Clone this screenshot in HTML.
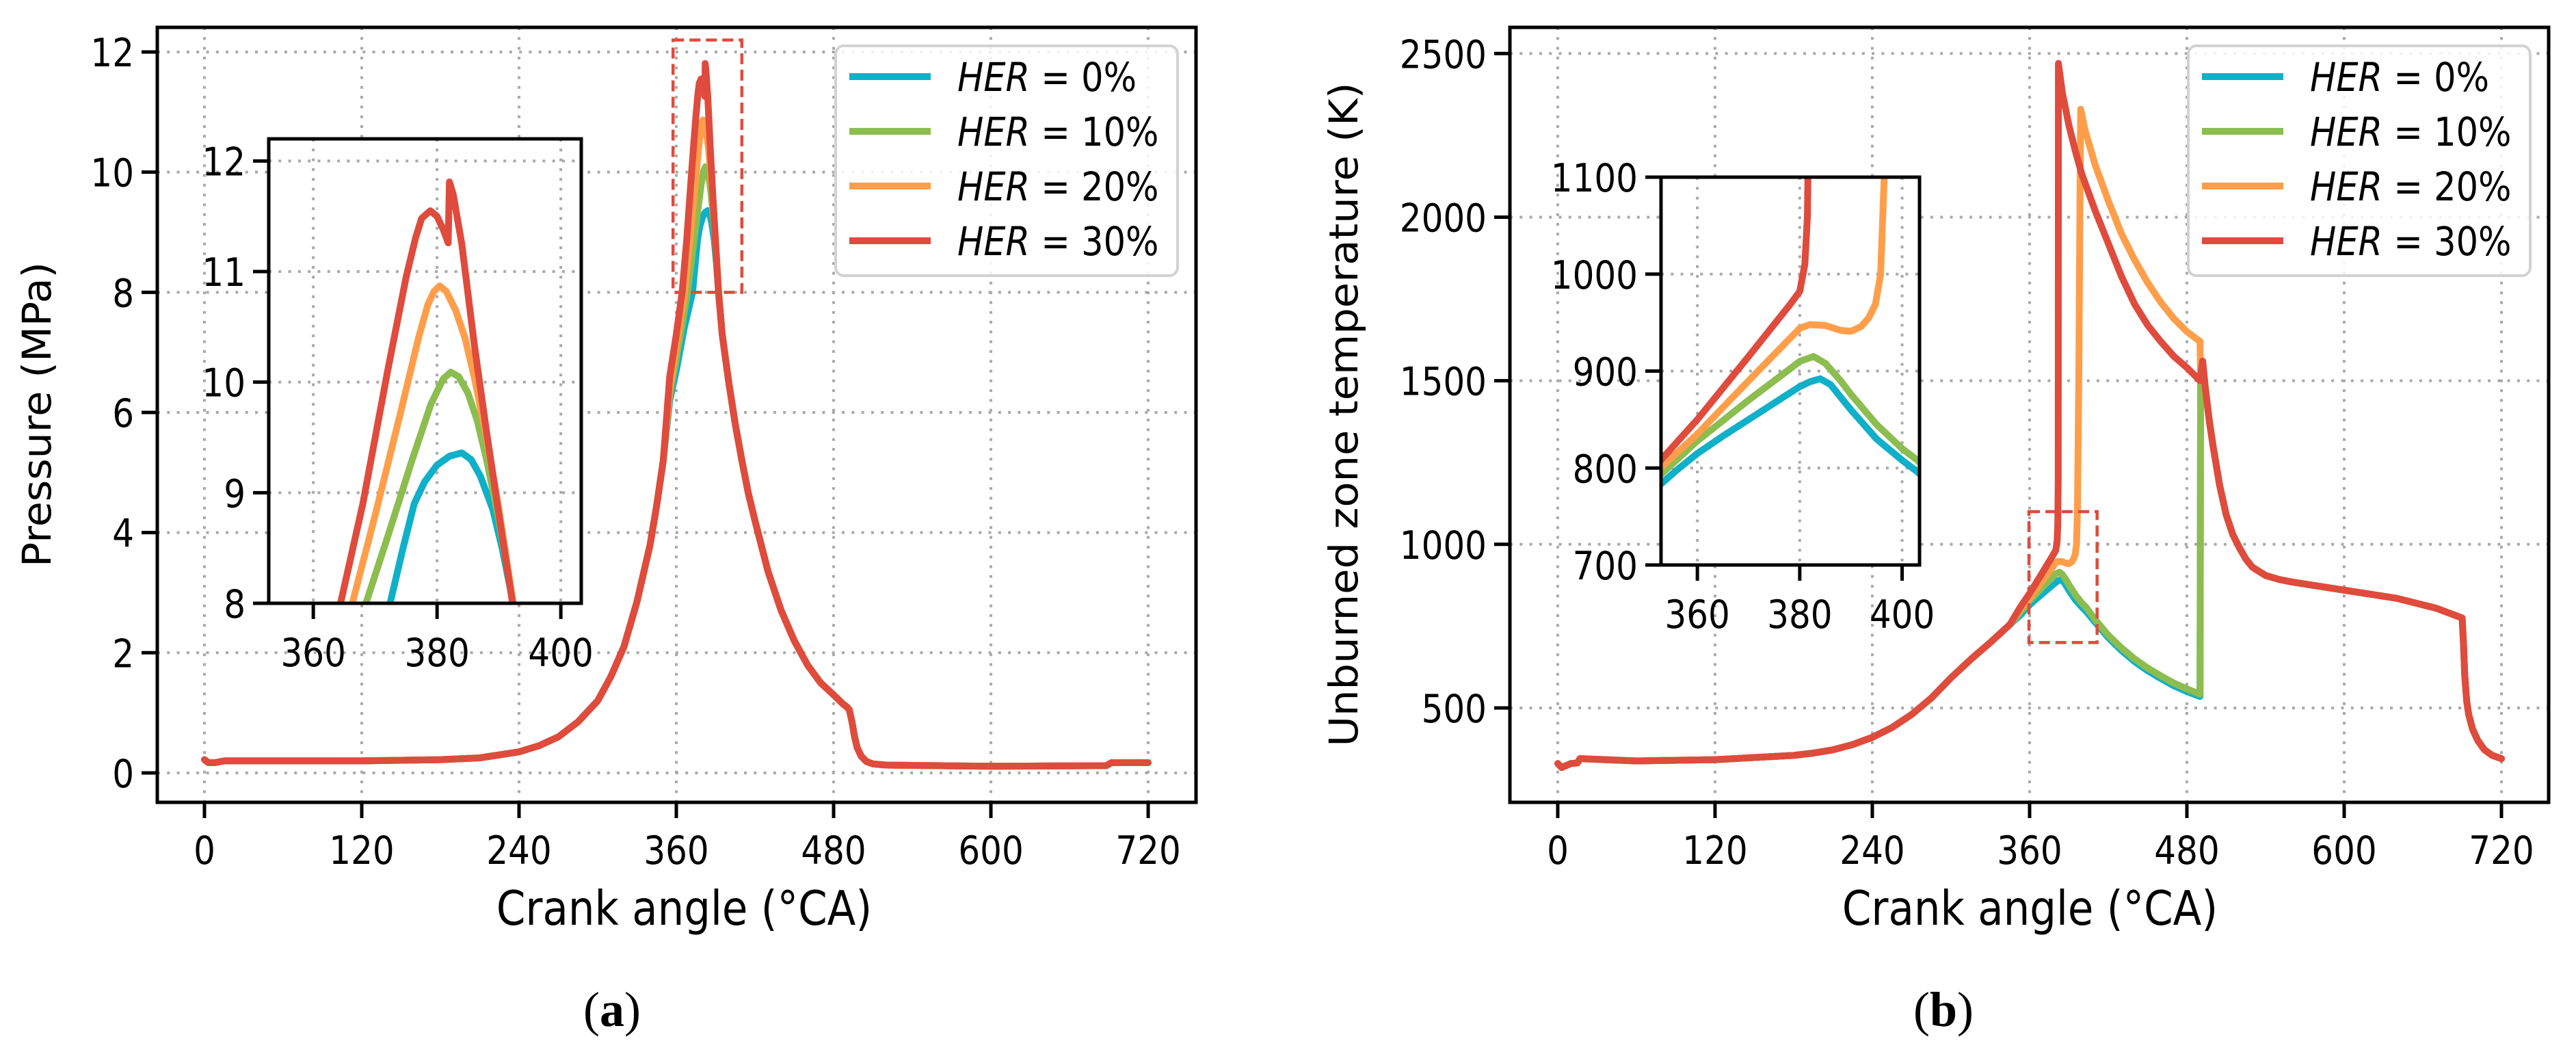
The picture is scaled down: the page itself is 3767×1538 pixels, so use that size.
<!DOCTYPE html>
<html><head><meta charset="utf-8"><title>Pressure and unburned zone temperature vs crank angle</title>
<style>
html,body{margin:0;padding:0;background:#fff;overflow:hidden;width:3767px;height:1538px;position:relative;}
svg{display:block;position:absolute;left:0;top:0;font-family:"DejaVu Sans","Liberation Sans",sans-serif;overflow:hidden;}
</style></head>
<body>
<svg id="fig" xmlns="http://www.w3.org/2000/svg" width="3767" height="1538" viewBox="0 0 3767 1538">
<clipPath id="pageclip"><rect x="0" y="0" width="3767" height="1538"/></clipPath>
<g id="root" clip-path="url(#pageclip)">
<rect x="0" y="0" width="3767" height="1538" fill="#fff"/>
<text x="895" y="1500" font-family="Liberation Serif, serif" font-size="72" text-anchor="middle">(<tspan font-weight="bold">a</tspan>)</text>
<text x="2842" y="1500" font-family="Liberation Serif, serif" font-size="72" text-anchor="middle">(<tspan font-weight="bold">b</tspan>)</text>
</g>
</svg>
<script>
// ---------- data ----------
const seriesNames = ["HER = 0%","HER = 10%","HER = 20%","HER = 30%"];
const seriesLabelsNum = ["0%","10%","20%","30%"];
const xTicksMain = [0,120,240,360,480,600,720];
const pTicks = [0,2,4,6,8,10,12];
const tTicks = [500,1000,1500,2000,2500];
const insetXTicks = [360,380,400];
const pInsetTicks = [8,9,10,11,12];
const tInsetTicks = [700,800,900,1000,1100];

// Pressure (MPa)
const pPreAngle = [0,3,8,15,60,120,180,210,240,255,270,285,300,310,320,330,340,345,350];
const pPreVal   = [0.22,0.17,0.17,0.2,0.2,0.2,0.22,0.25,0.35,0.45,0.6,0.85,1.2,1.6,2.1,2.85,3.8,4.45,5.2];
const pPeakAngle0 = [355,360,366,372.4,374.5,376.3,378,380,382,384,385.5,387,389,390.5,392.3];
const pPeakVal0   = [6.2,6.7,7.4,8.0,8.5,8.9,9.1,9.25,9.33,9.36,9.3,9.15,8.85,8.5,8.0];
const pPeakAngle1 = [355,360,364,368.5,372,376,379,381,382.2,383.5,385,386.5,388,390,392.3];
const pPeakVal1   = [6.3,6.9,7.4,8.0,8.6,9.3,9.8,10.03,10.09,10.05,9.9,9.65,9.3,8.75,8.0];
const pPeakAngle2 = [355,360,366.3,370,374,377,378.5,379.5,380.4,381.5,383,384.5,386,388,390,392.3];
const pPeakVal2   = [6.4,7.1,8.0,8.8,9.7,10.4,10.7,10.82,10.87,10.82,10.65,10.4,10.05,9.5,8.85,8.0];
const pPeakAngle3 = [355,360,364.4,368,372,375,376.5,377.5,378.9,380,381,381.8,382,382.6,384,386,388,390,392.2];
const pPeakVal3   = [6.6,7.3,8.0,8.9,10.1,10.95,11.3,11.48,11.55,11.5,11.38,11.26,11.81,11.7,11.25,10.35,9.55,8.8,8.0];
const pTailAngle = [395,400,405,410,415,420,430,440,450,460,470,480,487,490,492,494,496,498,501,505,510,520,600,688,692,720];
const pTailVal   = [7.3,6.5,5.8,5.2,4.65,4.2,3.35,2.7,2.2,1.8,1.5,1.3,1.15,1.1,1.05,0.85,0.6,0.42,0.28,0.19,0.15,0.13,0.11,0.12,0.17,0.17];

// Unburned zone temperature (K)
const tPreAngle = [0,3,10,15,17,60,120,180,195,210,225,240,255,270,285,300,315,330,345];
const tPreVal   = [330,318,330,332,345,338,342,355,362,372,388,410,440,480,530,592,648,700,755];
const tMidAngle0 = [353,356,360,365,370,375,380,382,384,386,388,390,395,400,403,410,420,430,440,450,460,470,480,490,490.5];
const tMidVal0   = [784,798,815,833,850,867,884,889,892,886,873,860,830,808,796,762,715,676,642,614,590,568,550,535,1500];
const tMidAngle1 = [353,360,370,378,380,382.7,385,388,390,395,400,403,410,420,430,440,450,460,470,480,490,490.5];
const tMidVal1   = [794,828,870,902,910,915,908,890,876,845,820,808,770,722,684,650,622,598,576,558,542,1500];
const tMidAngle2 = [353,360,370,380,382,385,388,390,392,393.5,394.8,395.8,396.5,397.5,398.5,399,402,410,420,430,440,450,460,470,480,490,490.5];
const tMidVal2   = [801,835,890,944,948,947,942,941,946,955,969,1000,1100,1500,2100,2330,2270,2160,2050,1950,1870,1800,1740,1690,1650,1620,1500];
const tMidAngle3 = [353,360,370,378,380,381,381.5,381.8,382,385,390,395,400,410,420,430,440,450,460,470,480,490];
const tMidVal3   = [809,850,915,968,982,1010,1060,1200,2470,2380,2280,2200,2130,2020,1920,1820,1735,1670,1620,1575,1540,1500];
const tTailAngle = [492,494,497,500,505,510,515,520,525,530,540,550,560,600,640,670,690,691,692,693.5,695,698,702,707,713,720];
const tTailVal   = [1560,1480,1380,1300,1180,1090,1030,990,955,930,905,893,885,860,835,805,775,700,600,520,480,435,400,372,355,345];

const colors = ["#0fb0c8","#8bbd4f","#ff9e4a","#df4b3c"];

// ---------- helpers ----------
const NS = "http://www.w3.org/2000/svg";
const svg = document.getElementById("root");
function mk(tag, attrs, parent){
  const e = document.createElementNS(NS, tag);
  for (const k in attrs) e.setAttribute(k, attrs[k]);
  (parent||svg).appendChild(e);
  return e;
}
function scale(d0,d1,r0,r1){ return v => r0 + (v-d0)*(r1-r0)/(d1-d0); }
function txt(x,y,s,size,anchor,parent){
  const t = mk("text",{transform:"translate("+x+","+y+") scale(1,1.14)","font-size":size,"text-anchor":anchor||"middle"},parent);
  t.textContent = s;
  return t;
}
function series(pre, preV, mid, midV, tail, tailV){
  return {x: pre.concat(mid, tail), y: preV.concat(midV, tailV)};
}
let clipId = 0;

function drawAxes(g, box, sx, sy, xt, yt, opts){
  const grid = mk("g",{stroke:"#a9a9a9","stroke-width":4,"stroke-dasharray":"4 10.3",fill:"none"},g);
  
  
  xt.forEach(v=>{
    const l = mk("line",{x1:sx(v),x2:sx(v),y1:box.t,y2:box.b},grid);
    
    
  });
  yt.forEach(v=>{
    const l = mk("line",{x1:box.l,x2:box.r,y1:sy(v),y2:sy(v)},grid);
    
    
  });
}
function drawFrame(g, box, sx, sy, xt, yt, opts){
  const fr = mk("rect",{x:box.l,y:box.t,width:box.r-box.l,height:box.b-box.t,fill:"none",stroke:"#000","stroke-width":5},g);
  
  
  xt.forEach(v=>{
    const tk = mk("line",{x1:sx(v),x2:sx(v),y1:box.b,y2:box.b+23,stroke:"#000","stroke-width":5},g);
    
    
    const lb = txt(sx(v), box.b+opts.xLabDy, String(v), 50, "middle", g);
    
    
  });
  yt.forEach(v=>{
    const tk = mk("line",{x1:box.l-23,x2:box.l,y1:sy(v),y2:sy(v),stroke:"#000","stroke-width":5},g);
    
    
    const lb = txt(box.l-34, sy(v)+21, String(v), 50, "end", g);
    
    
  });
}
function drawLines(g, box, sx, sy, data, width){
  clipId++;
  const cp = mk("clipPath",{id:"cp"+clipId},g);
  mk("rect",{x:box.l,y:box.t,width:box.r-box.l,height:box.b-box.t},cp);
  const lg = mk("g",{"clip-path":"url(#cp"+clipId+")"},g);
  data.forEach((s,i)=>{
    const d = s.x.map((v,j)=>(j?"L":"M")+sx(v).toFixed(1)+","+sy(s.y[j]).toFixed(1)).join(" ");
    const p = mk("path",{d:d,fill:"none",stroke:colors[i],"stroke-width":width,"stroke-linejoin":"round","stroke-linecap":"round"},lg);
    
    
  });
}
function drawLegend(g, x0){
  const lg = mk("g",{},g);
  
  
  const r = mk("rect",{x:x0,y:67,width:500,height:336,rx:12,fill:"#fff","fill-opacity":0.85,stroke:"#d2d2d2","stroke-width":4},lg);
  
  
  seriesNames.forEach((n,i)=>{
    const y = 112 + i*80;
    const ln = mk("line",{x1:x0+20,x2:x0+139,y1:y,y2:y,stroke:colors[i],"stroke-width":10},lg);
    
    
    const t = mk("text",{transform:"translate("+(x0+178)+","+(y+21)+") scale(1,1.14)","font-size":51},lg);
    
    
    const it = mk("tspan",{"font-style":"italic"},t); it.textContent = "HER";
    const rest = mk("tspan",{},t); rest.textContent = " = " + seriesLabelsNum[i];
  });
}

function panel(cfg){
  const g = mk("g",{});
  
  
  const box = cfg.box;
  const sx = scale(cfg.xd[0],cfg.xd[1],box.l,box.r);
  const sy = scale(cfg.yd[0],cfg.yd[1],box.b,box.t);
  drawAxes(g, box, sx, sy, xTicksMain, cfg.yTicks, {name:cfg.name});
  drawLines(g, box, sx, sy, cfg.data, 10);
  const zr = mk("rect",{x:sx(cfg.zoomX[0]),y:sy(cfg.zoomY[1]),width:sx(cfg.zoomX[1])-sx(cfg.zoomX[0]),height:sy(cfg.zoomY[0])-sy(cfg.zoomY[1]),fill:"none",stroke:"#df4b3c","stroke-width":4.5,"stroke-dasharray":"16 8"},g);
  
  
  drawFrame(g, box, sx, sy, xTicksMain, cfg.yTicks, {name:cfg.name, xLabDy:90});
  const xl = txt((box.l+box.r)/2 - (cfg.name==='pressure-chart'?-11:-1), 1352, "Crank angle (°CA)", 61, "middle", g);
  
  
  const yl = mk("text",{transform:"translate("+cfg.ylabX+",606) rotate(-90)","font-size":58,"text-anchor":"middle",textLength:cfg.ylabLen,lengthAdjust:"spacingAndGlyphs"},g);
  yl.textContent = cfg.ylab;
  
  
  const ig = mk("g",{},g);
  
  
  const ib = cfg.ibox;
  const bg = mk("rect",{x:ib.l,y:ib.t,width:ib.r-ib.l,height:ib.b-ib.t,fill:"#fff"},ig);
  
  
  const isx = scale(cfg.ixd[0],cfg.ixd[1],ib.l,ib.r);
  const isy = scale(cfg.iyd[0],cfg.iyd[1],ib.b,ib.t);
  drawAxes(ig, ib, isx, isy, insetXTicks, cfg.iyTicks, {name:'inset'});
  drawLines(ig, ib, isx, isy, cfg.data, 10);
  drawFrame(ig, ib, isx, isy, insetXTicks, cfg.iyTicks, {name:'inset', xLabDy:92});
  drawLegend(g, cfg.legX);
}

const pData = [
  series(pPreAngle,pPreVal,pPeakAngle0,pPeakVal0,pTailAngle,pTailVal),
  series(pPreAngle,pPreVal,pPeakAngle1,pPeakVal1,pTailAngle,pTailVal),
  series(pPreAngle,pPreVal,pPeakAngle2,pPeakVal2,pTailAngle,pTailVal),
  series(pPreAngle,pPreVal,pPeakAngle3,pPeakVal3,pTailAngle,pTailVal)
];
const tData = [
  series(tPreAngle,tPreVal,tMidAngle0,tMidVal0,tTailAngle,tTailVal),
  series(tPreAngle,tPreVal,tMidAngle1,tMidVal1,tTailAngle,tTailVal),
  series(tPreAngle,tPreVal,tMidAngle2,tMidVal2,tTailAngle,tTailVal),
  series(tPreAngle,tPreVal,tMidAngle3,tMidVal3,tTailAngle,tTailVal)
];

panel({name:'pressure-chart', box:{l:230,r:1749,t:40,b:1173}, xd:[-36,756.5], yd:[-0.49,12.41],
  yTicks:pTicks, data:pData, zoomX:[357.5,410], zoomY:[8,12.2],
  ylab:"Pressure (MPa)", ylabX:74, ylabLen:446,
  ibox:{l:393,r:850,t:203,b:882}, ixd:[352.8,403.3], iyd:[8,12.2], iyTicks:pInsetTicks, legX:1222});
panel({name:'temperature-chart', box:{l:2208,r:3727,t:40,b:1173}, xd:[-36.5,756], yd:[211.5,2580],
  yTicks:tTicks, data:tData, zoomX:[359.5,411.5], zoomY:[700,1100],
  ylab:"Unburned zone temperature (K)", ylabX:1985, ylabLen:971,
  ibox:{l:2429,r:2807,t:259,b:826}, ixd:[352.9,403.4], iyd:[700,1100], iyTicks:tInsetTicks, legX:3200});
</script>
</body></html>
